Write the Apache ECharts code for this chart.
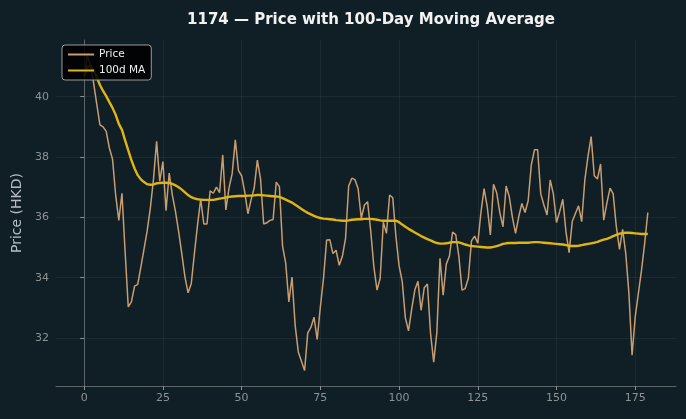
<!DOCTYPE html>
<html>
<head>
<meta charset="utf-8">
<script src="https://cdn.jsdelivr.net/npm/echarts@6/dist/echarts.min.js"></script>
<style>
  html, body { margin: 0; padding: 0; background: #101f26; }
  #chart { width: 686px; height: 419px; }
</style>
</head>
<body>
<div id="chart"></div>
<script>
// daily closes (day 0..179)
const price = [
  40.67, 41.36, 41.06, 40.45, 39.75, 39.07, 39.00, 38.85, 38.30, 37.93,
  36.74, 35.90, 36.80, 34.85, 33.03, 33.20, 33.72, 33.78, 34.35, 34.95,
  35.55, 36.30, 37.25, 38.52, 37.20, 37.85, 36.22, 37.47, 36.74, 36.19,
  35.53, 34.80, 34.03, 33.50, 33.80, 34.80, 35.75, 36.60, 35.78, 35.78,
  36.88, 36.80, 37.00, 36.82, 38.07, 36.25, 36.98, 37.45, 38.57, 37.55,
  37.38, 36.84, 36.12, 36.58, 36.98, 37.90, 37.28, 35.78, 35.82, 35.90,
  35.93, 37.17, 37.02, 35.05, 34.48, 33.20, 34.02, 32.42, 31.54, 31.23,
  30.92, 32.17, 32.35, 32.69, 31.95, 33.03, 33.97, 35.25, 35.26, 34.80,
  34.91, 34.41, 34.71, 35.30, 37.04, 37.30, 37.25, 36.95, 35.97, 36.41,
  36.52, 35.55, 34.36, 33.59, 33.98, 35.84, 35.47, 36.74, 36.65, 35.38,
  34.40, 33.88, 32.67, 32.24, 32.95, 33.59, 33.88, 32.92, 33.67, 33.79,
  32.15, 31.20, 32.18, 34.64, 33.42, 34.45, 34.72, 35.51, 35.43, 34.70,
  33.59, 33.64, 33.98, 35.22, 35.38, 35.14, 36.16, 36.95, 36.36, 35.42,
  37.10, 36.82, 36.16, 35.69, 37.04, 36.69, 36.00, 35.47, 36.02, 36.46,
  36.16, 36.55, 37.74, 38.24, 38.24, 36.78, 36.41, 36.08, 37.24, 36.78,
  35.83, 36.19, 36.60, 35.53, 34.83, 35.86, 36.13, 36.38, 35.86, 37.24,
  38.02, 38.68, 37.38, 37.27, 37.77, 35.91, 36.47, 36.97, 36.78, 35.69,
  34.94, 35.60, 34.80, 33.48, 31.43, 32.70, 33.48, 34.25, 35.14, 36.16
];

// 100-day moving average, also
const ma100 = [
  40.67, 41.00, 41.03, 40.88, 40.65, 40.39, 40.19, 40.02, 39.82, 39.63,
  39.40, 39.10, 38.90, 38.55, 38.22, 37.90, 37.62, 37.40, 37.26, 37.17,
  37.10, 37.08, 37.09, 37.13, 37.14, 37.15, 37.15, 37.14, 37.11, 37.06,
  37.00, 36.92, 36.83, 36.74, 36.67, 36.63, 36.60, 36.59, 36.58, 36.58,
  36.58, 36.58, 36.60, 36.62, 36.64, 36.66, 36.68, 36.69, 36.70, 36.71,
  36.71, 36.71, 36.72, 36.72, 36.73, 36.74, 36.74, 36.73, 36.72, 36.71,
  36.70, 36.69, 36.68, 36.64, 36.59, 36.54, 36.49, 36.42, 36.35, 36.28,
  36.21, 36.15, 36.10, 36.05, 36.01, 35.98, 35.96, 35.95, 35.94, 35.93,
  35.91, 35.90, 35.89, 35.89, 35.90, 35.92, 35.93, 35.94, 35.94, 35.95,
  35.95, 35.95, 35.94, 35.92, 35.90, 35.89, 35.89, 35.89, 35.89, 35.89,
  35.84, 35.76, 35.69, 35.62, 35.56, 35.50, 35.44, 35.38, 35.33, 35.28,
  35.24, 35.19, 35.15, 35.13, 35.13, 35.14, 35.16, 35.18, 35.18, 35.17,
  35.14, 35.10, 35.07, 35.05, 35.04, 35.03, 35.02, 35.01, 35.00, 35.00,
  35.02, 35.05, 35.08, 35.12, 35.14, 35.15, 35.15, 35.15, 35.16, 35.16,
  35.16, 35.16, 35.17, 35.18, 35.18, 35.17, 35.16, 35.15, 35.14, 35.13,
  35.12, 35.11, 35.10, 35.08, 35.06, 35.05, 35.05, 35.06, 35.08, 35.10,
  35.12, 35.14, 35.16, 35.19, 35.23, 35.26, 35.29, 35.33, 35.38, 35.42,
  35.46, 35.48, 35.49, 35.49, 35.48, 35.47, 35.46, 35.45, 35.45, 35.45
];

const xTicks = [0, 25, 50, 75, 100, 125, 150, 175];
const yTicks = [32, 34, 36, 38, 40];

const font = 'DejaVu Sans';
let mychart = echarts.init(document.getElementById('chart'));

mychart.setOption({
  backgroundColor: '#101f26',
  animation: false,
  title: {
    text: '1174 — Price with 100-Day Moving Average',
    left: 366,
    textAlign: 'center',
    top: 8,
    textStyle: { color: '#f2f2f2', fontSize: 15, fontWeight: 'bold', fontFamily: font }
  },
  legend: {
    left: 62,
    top: 45,
    orient: 'vertical',
    itemWidth: 26,
    itemHeight: 11,
    itemGap: 5,
    padding: [4, 6, 4, 5],
    backgroundColor: 'rgba(0,0,0,0.88)',
    borderColor: '#9a9a9a',
    borderWidth: 1,
    borderRadius: 3,
    itemStyle: { opacity: 0 },
    textStyle: { color: '#f0f0f0', fontSize: 10.5, fontFamily: font },
    data: ['Price', '100d MA']
  },
  grid: { left: 56, right: 10, top: 40, bottom: 33, outerBoundsMode: 'none', containLabel: false },
  xAxis: {
    type: 'value',
    min: -8.95,
    max: 187.95,
    axisLine: { show: true, lineStyle: { color: '#5c6468' } },
    axisTick: { show: true, length: 4, lineStyle: { color: '#8a8f92' }, customValues: xTicks },
    axisLabel: { color: '#8d9294', fontSize: 11, fontFamily: font, margin: 7, customValues: xTicks },
    splitLine: { show: true, lineStyle: { color: 'rgba(255,255,255,0.05)', width: 1 } }
  },
  yAxis: {
    type: 'value',
    min: 30.41,
    max: 41.88,
    name: 'Price (HKD)',
    nameLocation: 'middle',
    nameGap: 32,
    nameTextStyle: { color: '#b9bdbf', fontSize: 14, fontFamily: font },
    axisLine: { show: true, lineStyle: { color: '#5c6468' } },
    axisTick: { show: true, length: 4, lineStyle: { color: '#8a8f92' }, customValues: yTicks },
    axisLabel: { color: '#8d9294', fontSize: 11, fontFamily: font, margin: 7, customValues: yTicks },
    splitLine: { show: true, lineStyle: { color: 'rgba(255,255,255,0.05)', width: 1 } }
  },
  series: [
    {
      name: 'Price',
      type: 'line',
      symbol: 'none',
      data: price.map((v, i) => [i, v]),
      lineStyle: { color: '#c89d70', width: 1.5 },
      itemStyle: { color: '#c89d70' },
      z: 2
    },
    {
      name: '100d MA',
      type: 'line',
      symbol: 'none',
      data: ma100.map((v, i) => [i, v]),
      lineStyle: { color: '#dfb416', width: 2.4 },
      itemStyle: { color: '#dfb416' },
      z: 3
    }
  ]
});
</script>
</body>
</html>
